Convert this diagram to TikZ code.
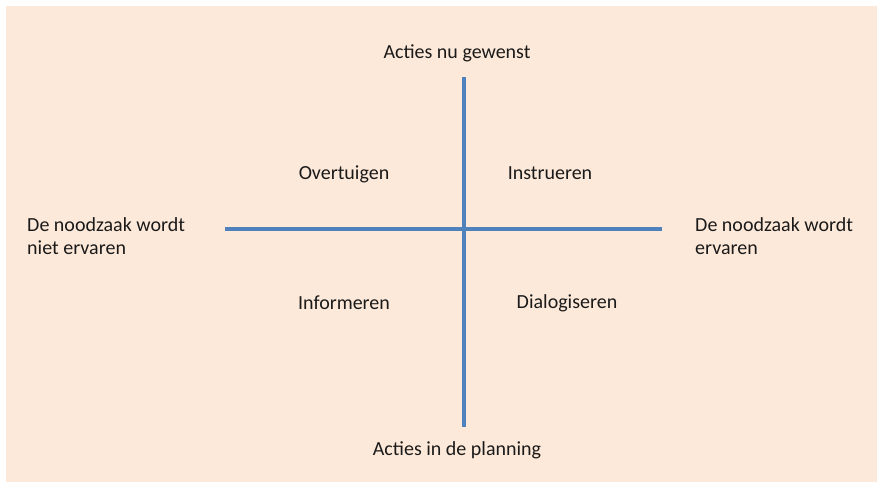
\documentclass[tikz,border=0pt]{standalone}
\usepackage{fontspec}
\setmainfont{Carlito}
\definecolor{peach}{HTML}{FDE9D9}
\definecolor{axisblue}{HTML}{4F81BD}
\definecolor{txt}{HTML}{1A1A1A}
\begin{document}
\begin{tikzpicture}[x=1pt,y=-1pt,
  lbl/.style={anchor=base,inner sep=0pt,text=txt,font=\fontsize{20}{23}\selectfont},
  side/.style={anchor=base west,inner sep=0pt,text=txt,align=left,font=\fontsize{20}{23}\selectfont},
  axis/.style={draw=axisblue,line width=4.5pt}]
  \useasboundingbox (0,0) rectangle (877,482);
  \fill[peach] (6,6) rectangle (877,482);
  % axes
  \coordinate (top) at (464,77);
  \coordinate (bottom) at (464,427);
  \coordinate (left) at (225,229);
  \coordinate (right) at (662,229);
  \draw[axis] (top) -- (bottom);
  \draw[axis] (left) -- (right);
  % axis labels
  \node[lbl] (up) at (457,58) {Acties nu gewenst};
  \node[lbl] (down) at (457,455) {Acties in de planning};
  % two-line labels: the base anchor sits on the last line
  \node[side] (west) at (27,254) {De noodzaak wordt\\niet ervaren};
  \node[side] (east) at (695,254) {De noodzaak wordt\\ervaren};
  % quadrants
  \node[lbl] (q1) at (344,179) {Overtuigen};
  \node[lbl] (q2) at (550,179) {Instrueren};
  \node[lbl] (q3) at (344,309) {Informeren};
  \node[lbl] (q4) at (567,308) {Dialogiseren};
\end{tikzpicture}
\end{document}
